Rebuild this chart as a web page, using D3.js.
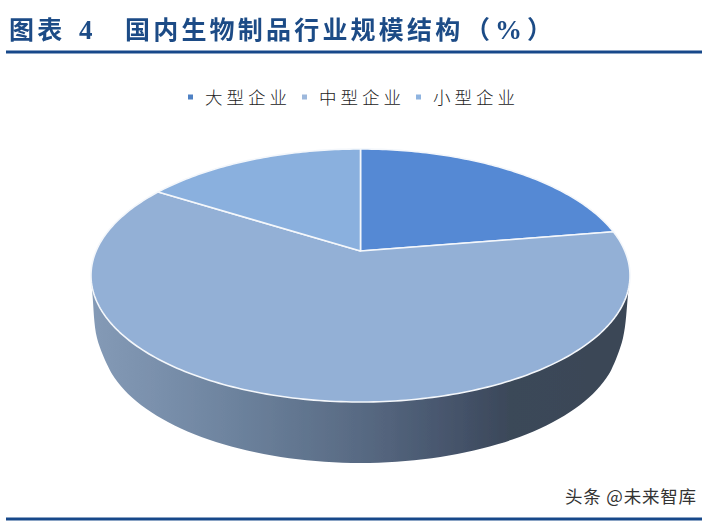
<!DOCTYPE html>
<html><head><meta charset="utf-8">
<script src="https://cdn.jsdelivr.net/npm/d3@7/dist/d3.min.js"></script>
<style>html,body{margin:0;background:#fff}svg{display:block}text{font-family:"Noto Sans CJK SC",sans-serif}</style>
</head><body><svg id="c" width="710" height="521"></svg>
<script>
const categories=["大型企业","中型企业","小型企业"];
const shares=[22.4,61.6,16];
const sliceColors=["#5589d4","#93b0d6","#8ab0de"];
const legendColors=["#4f81c4","#9db8dc","#8fb4e0"];
const titleParts=["图表","4","国内生物制品行业规模结构","（","%","）"];
const svg=d3.select("#c");
const defs=svg.append("defs");
const soft=defs.append("filter").attr("id","soft").attr("x","-5%").attr("y","-5%").attr("width","110%").attr("height","110%");
soft.append("feGaussianBlur").attr("stdDeviation",0.45);
const textSoft=defs.append("filter").attr("id","textSoft").attr("x","-5%").attr("y","-20%").attr("width","110%").attr("height","140%");
textSoft.append("feGaussianBlur").attr("stdDeviation",0.35);
const grad=defs.append("linearGradient").attr("id","wall").attr("gradientUnits","userSpaceOnUse").attr("x1",92).attr("x2",628).attr("y1",0).attr("y2",0);
[[0,"#849ab6"],[.12,"#7a90ac"],[.25,"#6e849f"],[.5,"#586a83"],[.68,"#45536a"],[.78,"#3b4859"],[1,"#3a4656"]].forEach(([o,c])=>grad.append("stop").attr("offset",o).attr("stop-color",c));

// rules
[52,519].forEach(y=>svg.append("rect").attr("x",6).attr("width",696).attr("y",y-1.5).attr("height",3).attr("fill","#17488a"));

// title
const tc="#1c4b86";
const title=svg.append("g").attr("filter","url(#textSoft)");
const tt=(x,s,ls)=>title.append("text").attr("x",x).attr("y",38.5).attr("font-size",25).attr("font-weight",700).attr("letter-spacing",ls).attr("fill",tc).text(s);
const tn=(x,s)=>title.append("text").attr("x",x).attr("y",39).attr("font-size",27).attr("font-weight",700).attr("fill",tc).style("font-family","Liberation Serif").text(s);
tt(9,titleParts[0],3.2);
tn(79,titleParts[1]);
tt(125,titleParts[2],3.2);
tt(465,titleParts[3],0);
tn(495,titleParts[4]);
tt(527,titleParts[5],0);

// legend
const legendX=[188,302,416];
categories.forEach((c,i)=>{
  svg.append("rect").attr("x",legendX[i]).attr("y",94.5).attr("width",5).attr("height",5).attr("fill",legendColors[i]);
  svg.append("text").attr("x",legendX[i]+17).attr("y",104).attr("font-size",17.5).attr("font-weight",300).attr("letter-spacing",4).attr("fill","#222").text(c);
});

// pie geometry: a perspective-tilted disc
const cx=360.5, discTop=149, discBottom=402, apexY=251, rx=269.5;
const up=apexY-discTop, down=discBottom-apexY;
const p=(up-down)/(up+down), s=up*(1-p);
const R=rx*Math.sqrt(1-p*p);
const proj=a=>{const u=Math.sin(a),v=-Math.cos(a),w=1+p*v;return [cx+R*u/w,apexY+s*v/w];};

const g=svg.append("g").attr("filter","url(#soft)");
// wall: edge down the left, the lower rim, edge up the right
const rimRx=258.5, rimRy=123, rimCy=340;
const rim=d3.range(14,167,4).map(t=>{const a=t*Math.PI/180;return [cx-rimRx*Math.cos(a),rimCy+rimRy*Math.sin(a)];});
const wallPts=[[cx-rx,275.5],[cx-268,295],[cx-263.5,338],...rim,[cx+262.5,338],[cx+267.5,295],[cx+rx,275.5]];
g.append("path").attr("fill","url(#wall)").attr("d",d3.line().curve(d3.curveCatmullRom)(wallPts)+"Z");

// slices
const arcs=d3.pie().sort(null).value(d=>d)(shares);
const line=d3.line();
arcs.forEach((d,i)=>{
  const n=Math.max(2,Math.ceil((d.endAngle-d.startAngle)*60));
  const pts=d3.range(n+1).map(k=>proj(d.startAngle+(d.endAngle-d.startAngle)*k/n));
  g.append("path").attr("d",line([[cx,apexY],...pts])+"Z").attr("fill",sliceColors[i])
   .attr("stroke","#f4f7fb").attr("stroke-width",1.6).attr("stroke-linejoin","round");
});

// watermark
svg.append("text").attr("x",565).attr("y",503).attr("font-size",17.5).attr("letter-spacing",0.8).attr("fill","#333").text("头条 @未来智库");
</script></body></html>
